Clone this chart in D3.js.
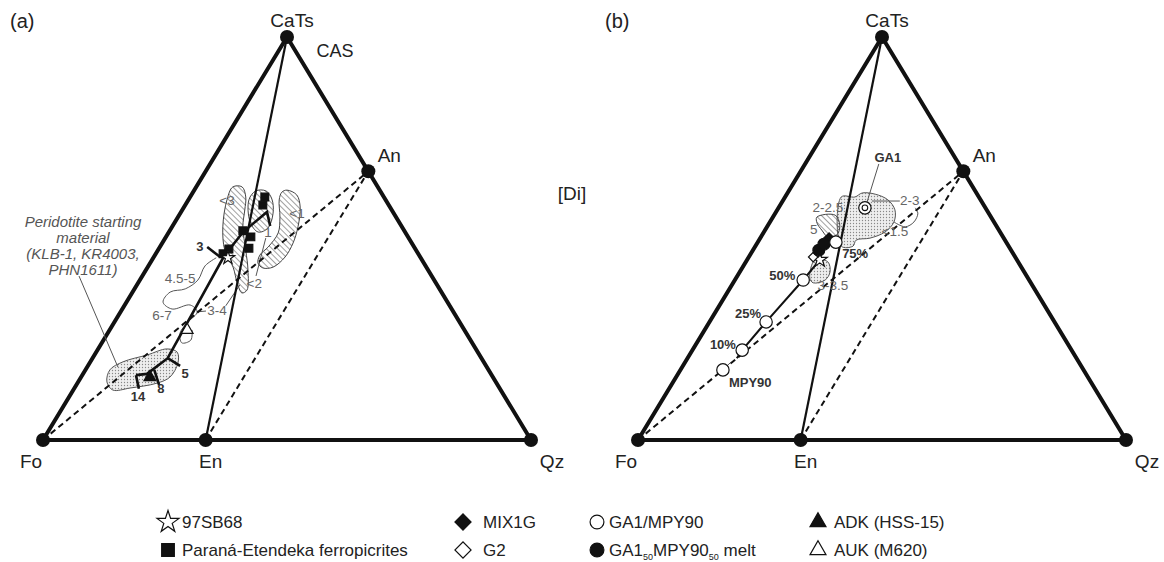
<!DOCTYPE html>
<html>
<head>
<meta charset="utf-8">
<script src="https://cdn.jsdelivr.net/npm/d3@7"></script>
<style>
  body { margin: 0; background: #fff; }
  svg { display: block; font-family: "Liberation Sans", Arial, sans-serif; }
</style>
</head>
<body>
<svg id="chart" width="1164" height="562"></svg>
<script>
// all compositions are [CaTs %, Qz %]; Fo is the remainder (100 - CaTs - Qz)

// projection end members
const apexes = [
  { name: 'CaTs', c: [100, 0] },
  { name: 'Fo', c: [0, 0] },
  { name: 'Qz', c: [0, 100] },
  { name: 'En', c: [0, 33.33] },
  { name: 'An', c: [66.67, 33.33] }
];
const joins = [['CaTs', 'En', 'solid'], ['Fo', 'An', 'dash'], ['En', 'An', 'dash']];

// --- panel (a)
const ferropicrites = [[60.3, 15.3], [58.3, 15.9], [51.9, 15.0], [50.4, 17.4], [47.6, 18.4], [47.4, 14.4], [46.2, 13.8]];
const sb68A = [[45.2, 15.3]];
const adkHSS15 = [[15.6, 14.1]];
const aukM620 = [[27.3, 15.9]];
const meltPathA = [[16.1, 11.0], [16.4, 13.1], [20.3, 15.4], [45.7, 14.3], [51.6, 15.2], [56.6, 17.6], [53.1, 20.0]];
const ticksA = [
  { p: '14', from: [16.1, 11.0], to: [12.7, 13.3], at: [10.7, 14.1] },
  { p: '8', from: [17.4, 14.1], to: [13.6, 17.0], at: [12.7, 17.8] },
  { p: '5', from: [20.3, 15.4], to: [18.4, 18.9], at: [16.4, 20.9] },
  { p: '3', from: [45.4, 13.6], to: [47.9, 9.7], at: [48.1, 8.1] }
];
const peridotiteField = [[17.4, 5.0], [19.4, 6.7], [21.1, 10.8], [22.6, 14.1], [21.8, 16.6], [19.1, 18.1], [15.6, 18.2], [14.1, 16.3], [12.9, 11.4], [12.4, 8.1], [14.4, 5.9]];
const hatchLeftA = [[62.8, 7.5], [62.8, 9.4], [60.3, 11.4], [57.1, 12.8], [52.9, 14.5], [47.1, 18.0], [42.2, 20.9], [37.2, 23.2], [36.5, 22.5], [39.0, 20.3], [42.9, 17.5], [47.1, 13.7], [52.9, 10.4], [59.6, 7.9]];
const hatchMidA = [[59.6, 12.4], [61.8, 12.7], [61.8, 14.8], [59.8, 17.0], [56.3, 19.0], [52.6, 19.8], [51.6, 18.3], [54.1, 15.4]];
const hatchRightA = [[62.0, 19.0], [60.8, 21.6], [57.8, 23.8], [52.9, 25.8], [48.9, 26.8], [45.4, 26.9], [42.9, 25.7], [42.7, 23.7], [43.9, 22.1], [45.9, 21.5], [47.9, 22.2], [51.4, 22.5], [55.3, 20.9], [59.6, 18.6], [61.5, 18.2]];
const contoursA = [
  [[45.2, 12.9], [43.2, 11.6], [39.7, 11.9], [37.5, 10.4], [36.7, 7.7], [34.2, 7.5], [32.5, 10.2], [33.5, 13.4], [31.8, 15.7], [29.3, 15.1], [26.6, 14.8], [24.1, 16.4], [24.8, 17.9], [27.3, 16.9]],
  [[31.8, 15.7], [32.0, 17.4]],
  [[33.3, 20.8], [38.5, 21.1]],
  [[40.7, 23.3], [50.1, 20.6]]
];
const notesA = [
  { t: '<3', at: [59.6, 7.9] }, { t: '<1', at: [56.3, 23.9] }, { t: '<2', at: [39.0, 23.8] },
  { t: '1', at: [51.6, 20.3] }, { t: '4.5-5', at: [40.2, 8.0] }, { t: '6-7', at: [31.0, 8.9] },
  { t: '3-4', at: [32.3, 19.5] }
];
const peridotiteLines = ['Peridotite starting', 'material', '(KLB-1, KR4003,', 'PHN1611)'];
const peridotiteAnchor = [18.1, 6.3];

// --- panel (b)
const ga1Mpy90 = [[57.6, 17.7], [49.1, 16.0], [39.7, 14.0], [29.3, 11.6], [22.3, 10.2], [17.4, 8.7]];
const mixPathB = [[20.3, 10.1], [22.3, 10.2], [29.3, 11.6], [39.7, 14.0], [44.7, 14.9]];
const meltGA1MPY = [[47.1, 13.5], [48.6, 13.8]];
const mix1g = [[50.1, 14.1]];
const g2 = [[45.4, 13.2]];
const sb68B = [[44.7, 14.9]];
const stippleUpperB = [[60.3, 11.5], [60.3, 14.3], [61.3, 15.3], [61.0, 18.1], [59.6, 21.4], [57.1, 24.1], [54.1, 25.4], [51.6, 24.8], [50.1, 22.5], [49.6, 19.9], [48.1, 20.0], [48.1, 17.6]];
const stippleLowerB = [[44.7, 13.9], [44.2, 16.8], [41.7, 18.5], [39.7, 18.5], [39.0, 16.4], [40.2, 15.1]];
const hatchB = [[55.3, 9.0], [55.8, 12.5], [53.3, 14.7], [50.9, 15.3], [50.4, 13.7], [52.1, 11.6], [53.8, 9.8]];
const contoursB = [
  [[54.1, 25.4], [52.9, 28.3], [54.1, 29.5], [56.3, 29.2], [57.6, 28.0]],
  [[59.3, 18.3], [59.3, 24.0]],
  [[68.5, 15.1], [59.1, 17.4]],
  [[17.4, 8.7], [19.1, 9.3]]
];
const notesB = [
  { t: '2-2.5', at: [57.8, 10.0] }, { t: '5', at: [52.4, 9.8] }, { t: '3-3.5', at: [38.5, 20.7] },
  { t: '2-3', at: [59.6, 25.9] }, { t: '<1.5', at: [51.9, 26.7] }
];
const boldNotesB = [
  { t: 'GA1', at: [70.2, 16.1] }, { t: '75%', at: [46.4, 21.3] }, { t: '50%', at: [40.9, 9.1] },
  { t: '25%', at: [31.3, 6.9] }, { t: '10%', at: [23.6, 5.6] }, { t: 'MPY90', at: [14.4, 15.8] }
];

// --- legend
const legendItems = [
  { label: [['97SB68']], sym: 'star', fill: '#fff', col: 0, row: 0 },
  { label: [['Paraná-Etendeka ferropicrites']], sym: 'square', fill: '#111', col: 0, row: 1 },
  { label: [['MIX1G']], sym: 'diamond', fill: '#111', col: 1, row: 0 },
  { label: [['G2']], sym: 'diamond', fill: '#fff', col: 1, row: 1 },
  { label: [['GA1/MPY90']], sym: 'circle', fill: '#fff', col: 2, row: 0 },
  { label: [['GA1'], ['50', true], ['MPY90'], ['50', true], [' melt']], sym: 'circle', fill: '#111', col: 2, row: 1 },
  { label: [['ADK (HSS-15)']], sym: 'triangle', fill: '#111', col: 3, row: 0 },
  { label: [['AUK (M620)']], sym: 'triangle', fill: '#fff', col: 3, row: 1 }
];

const svg = d3.select('#chart');
const defs = svg.append('defs');

// hatching and stipple fills
const hatch = defs.append('pattern').attr('id', 'hatch')
  .attr('patternUnits', 'userSpaceOnUse').attr('width', 4).attr('height', 4)
  .attr('patternTransform', 'rotate(-45)');
hatch.append('line').attr('x1', 0).attr('y1', 0).attr('x2', 0).attr('y2', 4)
  .attr('stroke', '#444').attr('stroke-width', 1);
const stip = defs.append('pattern').attr('id', 'stipple')
  .attr('patternUnits', 'userSpaceOnUse').attr('width', 3).attr('height', 3);
stip.append('rect').attr('width', 3).attr('height', 3).attr('fill', '#eeeeee');
stip.append('circle').attr('cx', 1.5).attr('cy', 1.5).attr('r', 0.65).attr('fill', '#888');

const symbolPath = (type, size) => {
  const t = { star: d3.symbolStar, square: d3.symbolSquare, circle: d3.symbolCircle,
              triangle: d3.symbolTriangle, diamond: d3.symbolSquare }[type];
  return d3.symbol().type(t).size(size)();
};

function drawPanel(p) {
  const g = svg.append('g');
  const xs = d3.scaleLinear().domain([0, 100]).range([p.x0, p.x0 + 488]);
  const ys = d3.scaleLinear().domain([0, 100]).range([440, 37]);
  const px = c => xs(c[1] + c[0] / 2);
  const py = c => ys(c[0]);
  const line = d3.line().x(px).y(py);
  const blob = d3.line().x(px).y(py).curve(d3.curveCatmullRomClosed.alpha(0.5));
  const wiggle = d3.line().x(px).y(py).curve(d3.curveCatmullRom.alpha(0.5));
  const apex = name => apexes.find(a => a.name === name).c;

  // fields
  g.selectAll(null).data(p.stipple).join('path')
    .attr('d', blob).attr('fill', 'url(#stipple)')
    .attr('stroke', '#555').attr('stroke-width', 1);
  g.selectAll(null).data(p.hatch).join('path')
    .attr('d', blob).attr('fill', 'url(#hatch)')
    .attr('stroke', '#444').attr('stroke-width', 1);
  g.selectAll(null).data(p.contours).join('path')
    .attr('d', wiggle).attr('fill', 'none')
    .attr('stroke', '#555').attr('stroke-width', 1);

  // joins and outline
  g.selectAll(null).data(joins).join('path')
    .attr('d', d => line([apex(d[0]), apex(d[1])]))
    .attr('fill', 'none').attr('stroke', '#111')
    .attr('stroke-width', d => d[2] === 'solid' ? 2.2 : 2)
    .attr('stroke-dasharray', d => d[2] === 'dash' ? '6,4' : null);
  g.append('path')
    .attr('d', line([apex('Fo'), apex('CaTs'), apex('Qz')]) + 'Z')
    .attr('fill', 'none').attr('stroke', '#111').attr('stroke-width', 4)
    .attr('stroke-linejoin', 'round');
  g.selectAll(null).data(apexes).join('circle')
    .attr('cx', d => px(d.c)).attr('cy', d => py(d.c)).attr('r', 7).attr('fill', '#111');

  const off = { CaTs: [5, -10], Fo: [-12, 28], En: [5, 28], Qz: [21, 28], An: [21, -9] };
  g.selectAll(null).data(apexes).join('text')
    .attr('x', d => px(d.c) + off[d.name][0]).attr('y', d => py(d.c) + off[d.name][1])
    .attr('text-anchor', 'middle').attr('font-size', 19).attr('fill', '#222')
    .text(d => d.name);
  g.append('text').attr('x', p.x0 - 33).attr('y', 28)
    .attr('font-size', 20).attr('fill', '#222').text(p.tag);

  // melt paths
  g.selectAll(null).data(p.paths).join('path')
    .attr('d', d => line(d.pts)).attr('fill', 'none')
    .attr('stroke', '#111').attr('stroke-width', d => d.w);

  // symbols
  g.selectAll(null).data(p.marks).join('path')
    .attr('transform', d => `translate(${px(d.c)},${py(d.c)})` + (d.sym === 'diamond' ? ' rotate(45)' : ''))
    .attr('d', d => symbolPath(d.sym, d.size))
    .attr('fill', d => d.fill).attr('stroke', '#111').attr('stroke-width', 1.2);

  // labels
  g.selectAll(null).data(p.notes).join('text')
    .attr('x', d => px(d.at)).attr('y', d => py(d.at)).attr('dy', '0.35em')
    .attr('text-anchor', 'middle').attr('font-size', 13.5).attr('fill', '#666')
    .text(d => d.t);
  g.selectAll(null).data(p.boldNotes).join('text')
    .attr('x', d => px(d.at)).attr('y', d => py(d.at)).attr('dy', '0.35em')
    .attr('text-anchor', 'middle').attr('font-size', 13).attr('font-weight', 'bold')
    .attr('fill', '#333').text(d => d.t);

  return { g, px, py };
}

// panel (a)
const a = drawPanel({
  x0: 43, tag: '(a)',
  stipple: [peridotiteField],
  hatch: [hatchLeftA, hatchMidA, hatchRightA],
  contours: contoursA,
  paths: [{ pts: meltPathA, w: 2.6 }].concat(ticksA.map(t => ({ pts: [t.from, t.to], w: 2.6 }))),
  marks: ferropicrites.map(c => ({ c, sym: 'square', size: 60, fill: '#111' }))
    .concat(sb68A.map(c => ({ c, sym: 'star', size: 55, fill: '#fff' })))
    .concat(adkHSS15.map(c => ({ c, sym: 'triangle', size: 60, fill: '#111' })))
    .concat(aukM620.map(c => ({ c, sym: 'triangle', size: 60, fill: '#fff' }))),
  notes: notesA,
  boldNotes: ticksA.map(t => ({ t: t.p, at: t.at }))
});
a.g.append('text').attr('x', 335).attr('y', 57).attr('text-anchor', 'middle')
  .attr('font-size', 18).attr('fill', '#222').text('CAS');
a.g.append('text').attr('x', 572).attr('y', 200).attr('text-anchor', 'middle')
  .attr('font-size', 19).attr('fill', '#222').text('[Di]');
a.g.selectAll(null).data(peridotiteLines).join('text')
  .attr('x', 83).attr('y', (d, i) => 227 + i * 16)
  .attr('text-anchor', 'middle').attr('font-size', 15).attr('font-style', 'italic')
  .attr('fill', '#555').text(d => d);
a.g.append('line').attr('x1', 79).attr('y1', 276)
  .attr('x2', a.px(peridotiteAnchor)).attr('y2', a.py(peridotiteAnchor))
  .attr('stroke', '#555').attr('stroke-width', 1);

// panel (b)
const b = drawPanel({
  x0: 638, tag: '(b)',
  stipple: [stippleUpperB, stippleLowerB],
  hatch: [hatchB],
  contours: contoursB,
  paths: [{ pts: mixPathB, w: 2 }],
  marks: sb68B.map(c => ({ c, sym: 'star', size: 70, fill: '#fff' }))
    .concat(g2.map(c => ({ c, sym: 'diamond', size: 45, fill: '#fff' })))
    .concat(mix1g.map(c => ({ c, sym: 'diamond', size: 55, fill: '#111' })))
    .concat(meltGA1MPY.map(c => ({ c, sym: 'circle', size: 110, fill: '#111' })))
    .concat(ga1Mpy90.map(c => ({ c, sym: 'circle', size: 120, fill: '#fff' }))),
  notes: notesB,
  boldNotes: boldNotesB
});
b.g.append('circle').attr('cx', b.px(ga1Mpy90[0])).attr('cy', b.py(ga1Mpy90[0]))
  .attr('r', 2.8).attr('fill', 'none').attr('stroke', '#111').attr('stroke-width', 1.1);

// legend
const symX = [168, 463, 597, 818], txtX = [182, 483, 609, 834], rowY = [522, 550];
const symSize = { star: 150, square: 160, diamond: 130, circle: 150, triangle: 110 };
const leg = svg.append('g');
leg.selectAll(null).data(legendItems).join('path')
  .attr('transform', d => `translate(${symX[d.col]},${rowY[d.row]})` + (d.sym === 'diamond' ? ' rotate(45)' : ''))
  .attr('d', d => symbolPath(d.sym, symSize[d.sym]))
  .attr('fill', d => d.fill).attr('stroke', '#111').attr('stroke-width', 1.2);
leg.selectAll(null).data(legendItems).join('text')
  .attr('x', d => txtX[d.col]).attr('y', d => rowY[d.row] + 6)
  .attr('font-size', 17).attr('fill', '#222')
  .each(function (d) {
    const t = d3.select(this);
    d.label.forEach(([s, sub]) => {
      t.append('tspan').attr('font-size', sub ? 9 : 17)
        .attr('dy', sub ? 4 : (t.selectAll('tspan').size() > 1 ? -4 : 0))
        .text(s);
    });
  });
</script>
</body>
</html>
